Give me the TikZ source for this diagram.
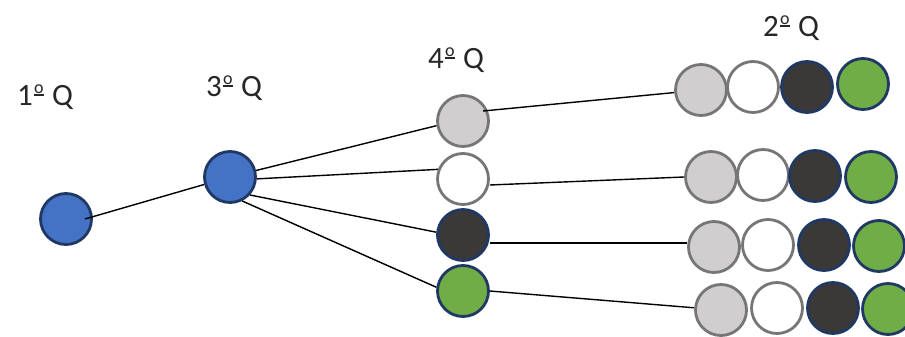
\documentclass[tikz,border=0pt]{standalone}
\usepackage{fontspec}
\setmainfont{Carlito}
\newcommand{\myord}{\makebox[0.4em][c]{\raisebox{0.36em}{\fontsize{18}{18}\selectfont o}}\hspace{-0.4em}\makebox[0.4em][c]{\raisebox{0.29em}{\rule{0.3em}{0.055em}}}}
\begin{document}
\begin{tikzpicture}[x=1pt,y=-1pt,
  ball/.style={circle,minimum size=51pt,inner sep=0pt,line width=2.8pt},
  blueball/.style={ball,fill={rgb,255:red,68;green,114;blue,196},draw={rgb,255:red,32;green,56;blue,100}},
  grayball/.style={ball,fill={rgb,255:red,208;green,206;blue,206},draw={rgb,255:red,118;green,118;blue,118}},
  whiteball/.style={ball,fill=white,draw={rgb,255:red,118;green,118;blue,118}},
  darkball/.style={ball,fill={rgb,255:red,59;green,56;blue,56},draw={rgb,255:red,32;green,56;blue,100}},
  greenball/.style={ball,fill={rgb,255:red,112;green,173;blue,71},draw={rgb,255:red,32;green,56;blue,100}},
  lbl/.style={font=\fontsize{31}{36}\selectfont,text={rgb,255:red,38;green,38;blue,38},inner sep=0pt},
  conn/.style={line width=1.4pt,black}]
\useasboundingbox (0,0) rectangle (905,337);
% labels
\node[lbl] (t1) at (45,97) {1\myord\ Q};
\node[lbl] (t3) at (234,88) {3\myord\ Q};
\node[lbl] (t4) at (456,60) {4\myord\ Q};
\node[lbl] (t2) at (791,28) {2\myord\ Q};
% rows on right
\node[grayball]  (r1a) at (701,90) {};
\node[whiteball] (r1b) at (753,87) {};
\node[darkball]  (r1c) at (807,87) {};
\node[greenball] (r1d) at (863,84) {};
\node[grayball]  (r2a) at (711,177) {};
\node[whiteball] (r2b) at (763,175) {};
\node[darkball]  (r2c) at (815,176) {};
\node[greenball] (r2d) at (871,177) {};
\node[grayball]  (r3a) at (714,247) {};
\node[whiteball] (r3b) at (768,245) {};
\node[darkball]  (r3c) at (824,245) {};
\node[greenball] (r3d) at (879,246) {};
\node[grayball]  (r4a) at (721,310) {};
\node[whiteball] (r4b) at (777,308) {};
\node[darkball]  (r4c) at (833,308) {};
\node[greenball] (r4d) at (888,309) {};
% 4Q column
\node[grayball]  (g) at (463,121) {};
\node[whiteball] (w) at (463,179) {};
\node[darkball]  (d) at (463,235) {};
\node[greenball] (n) at (463,291) {};
% blue
\node[blueball] (q1) at (66,219) {};
\node[blueball] (q3) at (230,177) {};
% connectors
\draw[conn] ([shift={(-8,0)}]q1.east) -- (q3);
\draw[conn] (q3.14) -- (g.190);
\draw[conn] (q3.-4) -- (w.159);
\draw[conn] (q3.-42) -- (d.174);
\draw[conn] (q3.-63) -- (n.172);
\draw[conn] ([shift={(20,-10)}]g.center) -- (r1a);
\draw[conn] ([shift={(0,6)}]w.east) -- (r2a.west);
\draw[conn] ([shift={(0,8)}]d.east) -- ([shift={(0,-4)}]r3a.west);
\draw[conn] (n.east) -- (r4a);
\end{tikzpicture}
\end{document}
